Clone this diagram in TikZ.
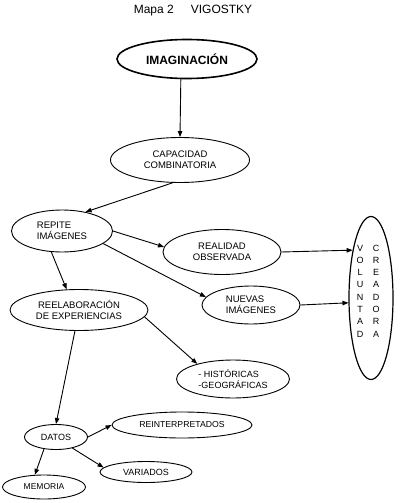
\documentclass[tikz,border=0pt]{standalone}
\usepackage{fontspec}
\setmainfont{Liberation Sans}
\usetikzlibrary{shapes.geometric,arrows.meta}
\begin{document}
\begin{tikzpicture}[x=1pt,y=-1pt,
    bubble/.style={ellipse, draw, line width=0.9pt, inner sep=0pt, align=center, font=\fontsize{9.5}{11}\selectfont},
    letter/.style={inner sep=0pt, font=\fontsize{9}{10}\selectfont},
    link/.style={-{Triangle[length=6pt,width=4.5pt]}, line width=0.9pt}]
  \useasboundingbox (0,0) rectangle (400,503);
  % Title
  \node (title) at (193,11) {\fontsize{12}{14}\selectfont Mapa 2\hspace{17pt}VIGOSTKY};
  % Main concept
  \node[bubble, line width=1.6pt, minimum width=140pt, minimum height=39pt, font=\bfseries\fontsize{12}{14}\selectfont] (imag) at (187,59) {IMAGINACIÓN};
  \node[bubble, minimum width=139pt, minimum height=45pt] (cap) at (180,160) {CAPACIDAD\\COMBINATORIA};
  % Middle level
  \node[bubble, minimum width=101pt, minimum height=42pt, align=left] (rep) at (62,231) {REPITE\\IMÁGENES};
  \node[bubble, minimum width=118pt, minimum height=45pt] (real) at (222,252) {REALIDAD\\OBSERVADA};
  \node[bubble, minimum width=98pt, minimum height=38pt, align=left] (nue) at (251,305) {NUEVAS\\IMÁGENES};
  \node[bubble, minimum width=138pt, minimum height=41pt] (reel) at (79,310) {REELABORACIÓN\\DE EXPERIENCIAS};
  \node[bubble, minimum width=113pt, minimum height=38pt, align=left, font=\fontsize{9}{11}\selectfont] (hist) at (233,379) {- HISTÓRICAS\\-GEOGRÁFICAS};
  % Voluntad creadora, written downwards
  \node[bubble, line width=1.2pt, minimum width=44pt, minimum height=163pt] (vol) at (371,298) {};
  \foreach \a/\b [count=\i] in {V/C, O/R, L/E, U/A, N/D, T/O, A/R, D/A} {
      \node[letter] (v\i) at (360,{235.7+12.3*\i}) {\a};
      \node[letter] (c\i) at (376,{235.7+12.3*\i}) {\b};
  }
  % Bottom level
  \node[bubble, minimum width=63pt, minimum height=25pt, font=\fontsize{9}{11}\selectfont] (datos) at (56,437) {DATOS};
  \node[bubble, minimum width=140pt, minimum height=26pt, font=\fontsize{8.7}{10}\selectfont] (reint) at (182,425) {REINTERPRETADOS};
  \node[bubble, minimum width=92pt, minimum height=21pt, font=\fontsize{9}{10}\selectfont] (var) at (146,472) {VARIADOS};
  \node[bubble, minimum width=83pt, minimum height=24pt, font=\fontsize{8.5}{10}\selectfont] (mem) at (44,487) {MEMORIA};
  % Connectors
  \draw[link] (imag.253) -- (cap.north);
  \draw[link] (cap.252) -- (rep.39);
  \draw[link] (rep.east) -- (real.175);
  \draw[link] (real.east) -- (vol.111);
  \draw[link] (rep.343) -- (nue.170);
  \draw[link] (nue.east) -- (vol.192);
  \draw[link] (rep.243) -- (reel.121);
  \draw[link] (reel.354) -- (hist.157);
  \draw[link] (reel.259) -- (datos.north);
  \draw[link] (datos.east) -- (reint.west);
  \draw[link] (datos.326) -- (var.174);
  \draw[link] (datos.225) -- (mem.127);
\end{tikzpicture}
\end{document}
